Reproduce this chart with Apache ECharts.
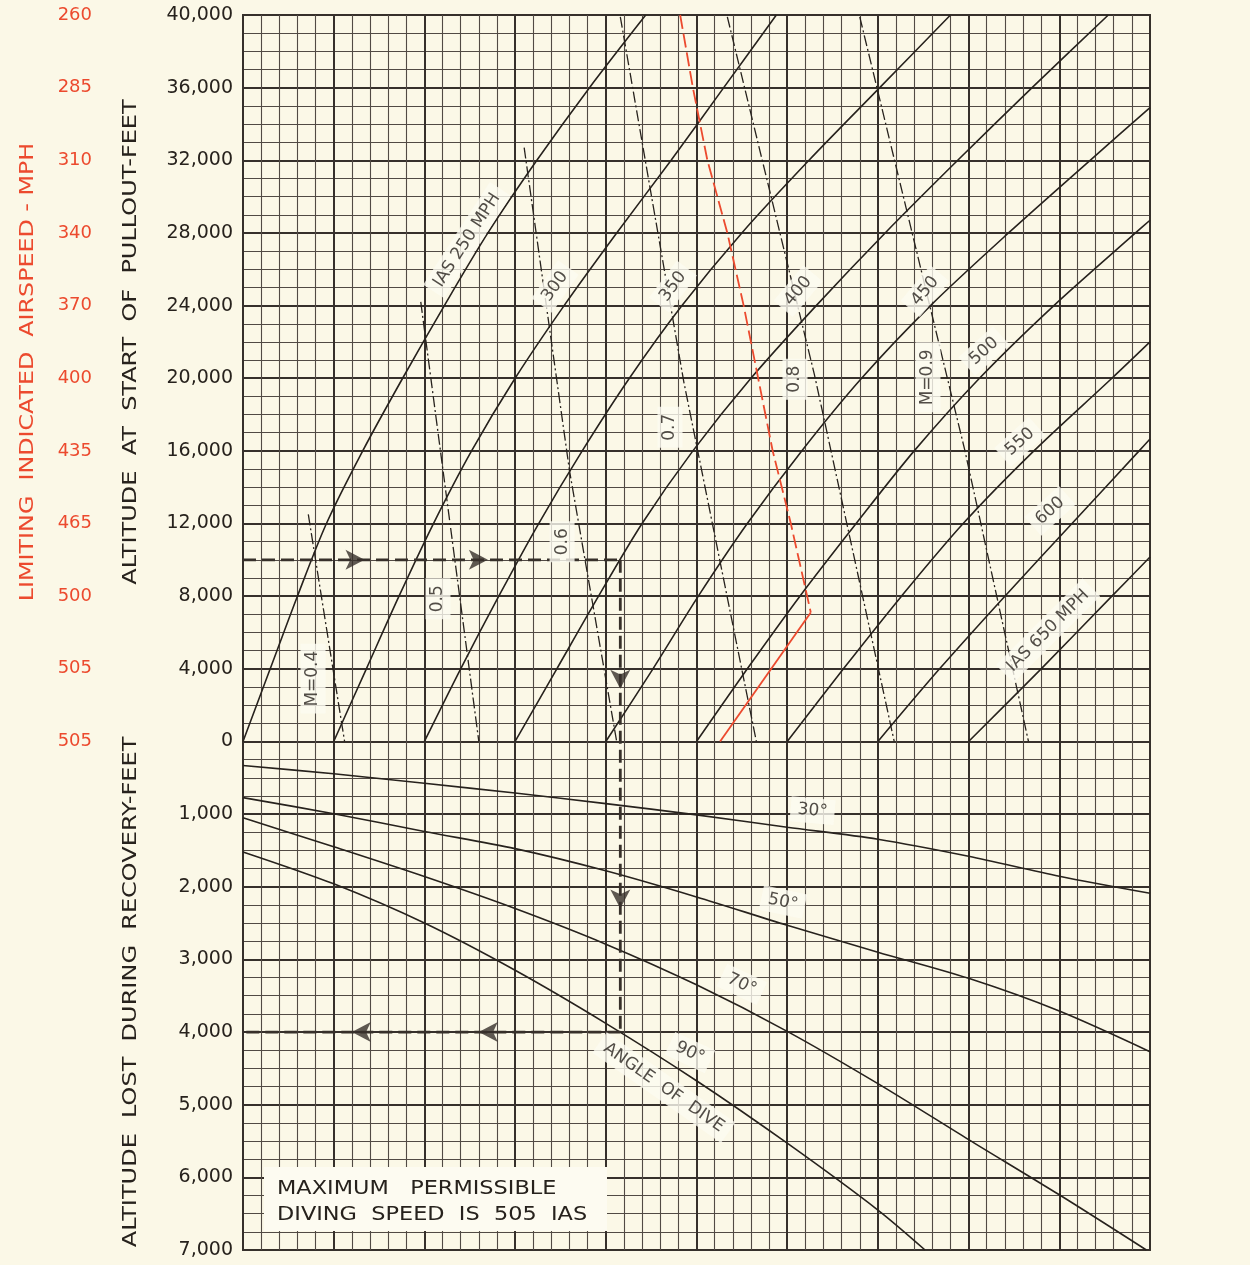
<!DOCTYPE html>
<html><head><meta charset="utf-8">
<script src="https://cdn.jsdelivr.net/npm/echarts@6/dist/echarts.min.js"></script>
<style>html,body{margin:0;padding:0;background:#fbf8e7;}#c{width:1250px;height:1265px;}</style>
</head><body><div id="c"></div>
<script>
// ---------- DATA ----------
// x = true airspeed (mph), upper y = altitude (thousand ft), lower y = -(altitude lost)/250 ft
const altSteps = [0, 4, 8, 12, 16, 20, 24, 28, 32, 36, 40];
const ias250 = [250, 265, 280, 296, 316, 338, 361, 385, 412, 441, 472];
const ias300 = [300, 318, 336, 355, 376, 400, 427, 456, 486, 515, 544];
const ias350 = [350, 370, 391, 413, 437, 463, 492, 525, 562, 601, 640];
const ias400 = [400, 423, 446, 470, 498, 530, 566, 604, 644, 685, 727];
const ias450 = [450, 476, 501, 528, 558, 591, 629, 672, 717];
const ias500 = [500, 528, 557, 588, 620, 656, 697, 742];
const ias550 = [550, 581, 613, 647, 686, 729];
const ias600 = [600, 634, 670, 707, 744];
const ias650 = [650, 690, 729];
const ias450End = [750, 34.9];
const ias500End = [750, 28.7];
const ias550End = [750, 22.0];
const ias600End = [750, 16.65];
const ias650End = [750, 10.16];

const mach04 = [[286, 12.5], [306, 0]];
const mach05 = [[348, 24.2], [380, 0]];
const mach06 = [[405, 32.7], [430, 14.9], [456, 0]];
const mach07 = [[458, 39.9], [493, 19.8], [533, 0]];
const mach08 = [[517, 39.9], [565, 20.2], [609, 0]];
const mach09 = [[590, 39.9], [648, 16.0], [683, 0]];

const redDashTas = [491, 498, 506, 517, 526, 534, 542, 552, 561, 563];
const redDashAlt = [40, 36, 32, 28, 24, 20, 16, 12, 8, 7.1];
const redSolidTas = [563, 513];
const redSolidAlt = [7.1, 0];

const diveTas = [250, 300, 350, 400, 450, 500, 550, 600, 650, 700, 750];
const dive30 = [331, 445, 575, 710, 855, 1010, 1180, 1345, 1580, 1855, 2090];
const dive50 = [773, 994, 1240, 1475, 1780, 2140, 2530, 2900, 3260, 3710, 4270];
const dive70 = [1050, 1450, 1860, 2300, 2790, 3350, 3990, 4710, 5480, 6240];
const dive90 = [1520, 1960, 2500, 3150, 3880, 4670, 5530, 6450];
const dive70End = [748, 7000];
const dive90End = [626, 7000];

const exampleTas = 458, exampleAlt = 10, exampleLost = 4000, startTas = 250;
const arrowRightTas = [317, 385];
const arrowDownY = [2.9, -9.2];
const arrowLeftTas = [380, 310];

const limitingIas = [505, 505, 500, 465, 435, 400, 370, 340, 310, 285, 260];

const iasLabels = [
  ['IAS 250 MPH', 373.5, 27.6, 57], ['300', 422, 25.05, 55], ['350', 487, 25.05, 53],
  ['400', 556, 24.8, 50], ['450', 626, 24.8, 50], ['500', 658.5, 21.5, 42],
  ['550', 678.3, 16.5, 42], ['600', 694.9, 12.7, 42], ['IAS 650 MPH', 693.8, 6.1, 45]
];
const machLabels = [
  ['M=0.4', 288.6, 3.46], ['0.5', 357.5, 7.86], ['0.6', 425.9, 11.0],
  ['0.7', 485.4, 17.3], ['0.8', 554.3, 19.95], ['M=0.9', 627.6, 20.05]
];
const diveLabels = [
  ['30°', 564, 953, -5], ['50°', 547.7, 2210, -12], ['70°', 525, 3343, -25],
  ['90°', 496.4, 4282, -25], ['ANGLE  OF  DIVE', 482, 4765, -35]
];

// ---------- CHART ----------
const INK = '#27221d', RED = '#ec4a2e', BG = '#fbf8e7', LBG = '#fdfbf1';
const FONT = '"DejaVu Sans", "Liberation Sans", sans-serif';
const lostToY = v => -v / 250;

function pairs(xs, ys) { return xs.map((x, i) => [x, ys[i]]); }
function iasData(arr, end) { const d = arr.map((t, i) => [t, altSteps[i]]); if (end) d.push(end); return d; }
function diveData(arr, end) { const d = arr.map((l, i) => [diveTas[i], lostToY(l)]); if (end) d.push([end[0], lostToY(end[1])]); return d; }

const series = [];
const solid = { color: INK, width: 1.6 };
[[ias250], [ias300], [ias350], [ias400], [ias450, ias450End], [ias500, ias500End],
 [ias550, ias550End], [ias600, ias600End], [ias650, ias650End]].forEach(([a, e]) => {
  series.push({ type: 'line', data: iasData(a, e), smooth: 0.3, symbol: 'none', lineStyle: solid, z: 3 });
});
[mach04, mach05, mach06, mach07, mach08, mach09].forEach(m => {
  series.push({ type: 'line', data: m, symbol: 'none', lineStyle: { color: INK, width: 1.3, type: [11, 3, 2, 3] }, z: 3 });
});
[[dive30], [dive50], [dive70, dive70End], [dive90, dive90End]].forEach(([a, e]) => {
  series.push({ type: 'line', data: diveData(a, e), smooth: 0.3, symbol: 'none', lineStyle: solid, z: 3 });
});
series.push({ type: 'line', data: pairs(redDashTas, redDashAlt), symbol: 'none', lineStyle: { color: RED, width: 1.8, type: [14, 5] }, z: 4 });
series.push({ type: 'line', data: pairs(redSolidTas, redSolidAlt), symbol: 'none', lineStyle: { color: RED, width: 1.8 }, z: 4 });

// example path
const pathStyle = { color: '#37302a', width: 2.8, type: [13, 6] };
series.push({ type: 'line', data: [[startTas, exampleAlt], [exampleTas, exampleAlt]], symbol: 'none', lineStyle: pathStyle, z: 4 });
series.push({ type: 'line', data: [[exampleTas, exampleAlt], [exampleTas, lostToY(exampleLost)]], symbol: 'none', lineStyle: pathStyle, z: 4 });
series.push({ type: 'line', data: [[exampleTas, lostToY(exampleLost)], [startTas, lostToY(exampleLost)]], symbol: 'none', lineStyle: pathStyle, z: 4 });
const arrows = [];
arrowRightTas.forEach(t => arrows.push({ value: [t, exampleAlt], symbolRotate: -90 }));
arrowDownY.forEach(y => arrows.push({ value: [exampleTas, y], symbolRotate: 180 }));
arrowLeftTas.forEach(t => arrows.push({ value: [t, lostToY(exampleLost)], symbolRotate: 90 }));
series.push({ type: 'scatter', data: arrows, symbol: 'arrow', symbolSize: [15, 19], itemStyle: { color: '#37302a' }, z: 5 });

// labels
const lbl = [];
iasLabels.forEach(([t, x, y, r]) => lbl.push({ value: [x, y], label: { formatter: t, rotate: r } }));
machLabels.forEach(([t, x, y]) => lbl.push({ value: [x, y], label: { formatter: t, rotate: 90 } }));
diveLabels.forEach(([t, x, l, r]) => lbl.push({ value: [x, lostToY(l)], label: { formatter: t, rotate: r } }));
series.push({
  type: 'scatter', data: lbl, symbolSize: 0, z: 6, itemStyle: { color: INK },
  label: { show: true, position: 'inside', color: INK, fontFamily: FONT, fontSize: 17,
    textBorderWidth: 0, textShadowBlur: 0, backgroundColor: LBG, padding: [4, 7] }
});

const chart = echarts.init(document.getElementById('c'));
chart.setOption({
  animation: false,
  backgroundColor: BG,
  grid: { left: 243, right: 100, top: 15, bottom: 15, show: true, borderColor: '#3a3530', borderWidth: 2 },
  xAxis: {
    type: 'value', min: 250, max: 750, interval: 50,
    axisLine: { show: false }, axisTick: { show: false }, axisLabel: { show: false },
    splitLine: { show: true, lineStyle: { color: '#36302b', width: 2 } },
    minorTick: { show: false, splitNumber: 5 },
    minorSplitLine: { show: true, lineStyle: { color: '#514a44', width: 1.1 } }
  },
  yAxis: [{
    type: 'value', min: -28, max: 40, interval: 4,
    axisLine: { show: false }, axisTick: { show: false },
    axisLabel: { color: INK, fontFamily: FONT, fontSize: 19, margin: 10,
      formatter: v => (v >= 0 ? v * 1000 : -v * 250).toLocaleString('en-US') },
    splitLine: { show: true, lineStyle: { color: '#36302b', width: 2 } },
    minorTick: { show: false, splitNumber: 4 },
    minorSplitLine: { show: true, lineStyle: { color: '#514a44', width: 1.1 } }
  }, {
    type: 'value', min: -28, max: 40, interval: 4, position: 'left', offset: 143,
    axisLine: { show: false }, axisTick: { show: false }, splitLine: { show: false },
    axisLabel: { color: RED, fontFamily: FONT, fontSize: 18, margin: 8,
      formatter: v => (v >= 0 ? String(limitingIas[v / 4]) : '') }
  }],
  graphic: [
    { type: 'text', x: 28, y: 372, rotation: Math.PI / 2, scaleX: 1.25,
      style: { text: 'LIMITING  INDICATED  AIRSPEED - MPH', fill: RED, font: '19px ' + FONT, align: 'center', verticalAlign: 'middle' } },
    { type: 'text', x: 131, y: 342, rotation: Math.PI / 2, scaleX: 1.2,
      style: { text: 'ALTITUDE  AT  START  OF  PULLOUT-FEET', fill: INK, font: '20px ' + FONT, align: 'center', verticalAlign: 'middle' } },
    { type: 'text', x: 131, y: 992, rotation: Math.PI / 2, scaleX: 1.2,
      style: { text: 'ALTITUDE  LOST  DURING  RECOVERY-FEET', fill: INK, font: '20px ' + FONT, align: 'center', verticalAlign: 'middle' } },
    { type: 'rect', shape: { x: 264, y: 1167, width: 343, height: 64 }, style: { fill: LBG }, z: 10 },
    { type: 'text', x: 277, y: 1176, z: 11, scaleX: 1.18,
      style: { text: 'MAXIMUM   PERMISSIBLE\nDIVING  SPEED  IS  505  IAS', fill: INK, font: '19px ' + FONT, lineHeight: 26, verticalAlign: 'top' } }
  ],
  series: series
});
</script>
</body></html>
